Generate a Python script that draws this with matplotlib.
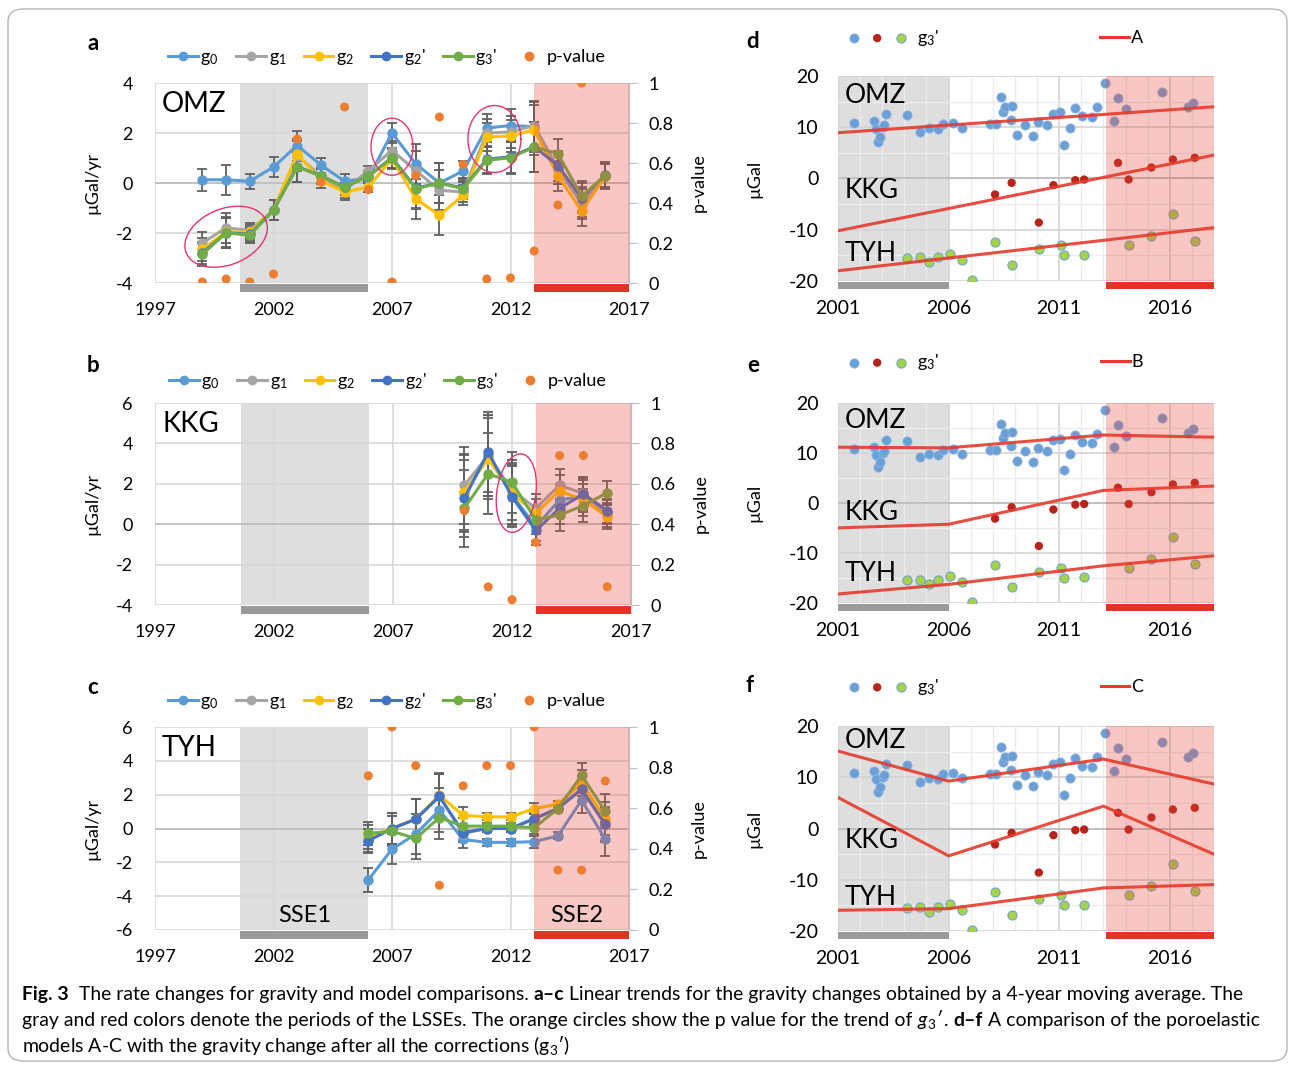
import numpy as np
import matplotlib
matplotlib.use('Agg')
import matplotlib.pyplot as plt
from matplotlib.lines import Line2D
from matplotlib.legend_handler import HandlerTuple
from matplotlib.patches import FancyBboxPatch
from matplotlib import font_manager

plt.rcParams['font.family'] = ['Lato', 'DejaVu Sans']
plt.rcParams['mathtext.fontset'] = 'custom'
plt.rcParams['mathtext.rm'] = 'Lato'
plt.rcParams['mathtext.it'] = 'Lato:italic'
plt.rcParams['mathtext.bf'] = 'Lato:bold'
plt.rcParams['axes.unicode_minus'] = False

nan = np.nan

# ---- a: OMZ rates (µGal/yr) ----
years_a = list(range(1999, 2017))
g0_a = [0.13, 0.13, 0.07, 0.64, 1.5, 0.72, 0.07, 0.2, 2.0, 0.77, 0.0, 0.48, 2.2, 2.3, 2.25, 0.57, -0.76, 0.3]
g1_a = [-2.4, -1.79, -1.9, -1.09, 1.1, 0.27, -0.29, 0.5, 1.3, 0.5, -0.29, -0.36, 2.0, 2.04, 2.3, 0.57, -0.83, 0.3]
g2_a = [-2.65, -1.96, -1.96, -1.09, 1.17, 0.1, -0.36, -0.16, 0.97, -0.63, -1.29, -0.49, 1.84, 1.88, 2.13, 0.3, -1.12, 0.27]
g2p_a = [-2.8, -1.99, -2.05, -1.09, 0.66, 0.29, -0.16, 0.27, 1.02, -0.2, 0.0, -0.2, 0.95, 1.05, 1.45, 0.7, -0.6, 0.33]
g3p_a = [-2.85, -1.99, -2.09, -1.09, 0.64, 0.29, -0.16, 0.27, 1.0, -0.23, 0.0, -0.23, 0.91, 1.01, 1.44, 1.17, -0.53, 0.3]
err_a = [0.45, 0.6, 0.3, 0.4, 0.6, 0.3, 0.3, 0.2, 0.4, 0.8, 0.8, 0.4, 0.55, 0.65, 1.0, 0.6, 0.6, 0.5]
p_a = [0.005, 0.02, 0.005, 0.045, 0.72, 0.505, 0.88, 0.467, 0.005, 0.537, 0.83, 0.593, 0.02, 0.025, 0.16, 0.39, 1.0, nan]

# ---- b: KKG ----
years_b = list(range(2010, 2017))
g0_b = [1.52, 3.4, 1.44, -0.11, 1.2, 1.39, 0.62]
g1_b = [1.93, 3.4, 1.69, 0.79, 1.93, 1.52, 0.46]
g2_b = [1.6, 3.25, 1.52, 0.54, 1.66, 1.2, 0.38]
g2p_b = [1.28, 3.57, 1.36, -0.31, 0.79, 1.49, 0.67]
g3p_b = [0.79, 2.5, 2.07, 0.21, 0.46, 0.92, 1.56]
err_b = [1.9, 2.0, 1.5, 0.7, 0.8, 0.8, 0.6]
p_b = [0.467, 0.09, 0.026, 0.31, 0.74, 0.74, 0.09]

# ---- c: TYH ----
years_c = list(range(2006, 2017))
g0_c = [-3.04, -1.22, -0.33, 1.08, -0.65, -0.82, -0.82, -0.78, -0.43, 1.67, -0.63]
g1_c = [-0.7, 0.0, 0.55, 1.9, -0.3, 0.0, 0.0, 0.55, 1.2, 2.35, 0.2]
g2_c = [-0.5, 0.0, 0.55, 1.96, 0.78, 0.69, 0.69, 1.18, 1.43, 2.69, 0.59]
g2p_c = [-0.73, 0.0, 0.55, 1.9, -0.24, 0.0, 0.0, 0.59, 1.18, 2.31, 0.25]
g3p_c = [-0.29, -0.16, -0.59, 0.65, 0.14, 0.14, 0.14, 0.04, 1.18, 3.14, 1.02]
err_c = [0.7, 0.9, 1.2, 1.3, 0.5, 0.2, 0.2, 0.35, 0.2, 0.75, 1.0]
p_c = [0.76, 1.0, 0.81, 0.22, 0.71, 0.81, 0.81, 1.0, 0.295, 0.295, 0.734]

# ---- d-f: g3' observations (µGal) ----
omz_t = [2001.71, 2002.63, 2002.71, 2002.81, 2002.89, 2003.04, 2003.07, 2003.15, 2004.14, 2004.70,
         2005.12, 2005.5, 2005.76, 2006.18, 2006.60, 2007.87, 2008.14, 2008.36, 2008.48, 2008.57,
         2008.85, 2008.81, 2009.08, 2009.46, 2009.81, 2010.02, 2010.44, 2010.74, 2011.05, 2011.2,
         2011.47, 2011.73, 2012.03, 2012.48, 2012.71, 2013.05, 2013.46, 2013.64, 2014.02, 2015.67,
         2016.82, 2017.06]
omz_v = [10.88, 11.27, 9.58, 7.17, 8.14, 10.1, 10.42, 12.57, 12.38, 9.12,
         9.77, 9.58, 10.62, 10.75, 9.9, 10.62, 10.55, 15.83, 13.03, 14.0,
         14.14, 11.4, 8.47, 10.42, 8.27, 11.0, 10.42, 12.57, 12.9, 6.51,
         9.84, 13.68, 12.25, 11.92, 13.88, 18.7, 11.27, 15.64, 13.49, 16.94,
         14.0, 14.79]
kkg_t = [2008.10, 2008.85, 2010.08, 2010.74, 2011.73, 2012.13, 2013.66, 2014.14, 2015.17, 2016.14, 2017.13]
kkg_v = [-3.13, -0.85, -8.6, -1.3, -0.33, -0.2, 3.06, -0.2, 2.15, 3.71, 4.04]
tyh_t = [2004.14, 2004.70, 2005.12, 2005.5, 2006.06, 2006.60, 2007.07, 2008.11, 2008.85, 2010.08,
         2011.08, 2011.2, 2012.13, 2014.14, 2015.17, 2016.14, 2017.12]
tyh_v = [-15.44, -15.31, -16.29, -15.31, -14.66, -15.83, -19.74, -12.44, -16.87, -13.75,
         -12.96, -14.98, -14.85, -13.03, -11.27, -6.84, -12.18]

# poroelastic models A-C (values at break years)
model_t = [2001, 2006, 2013, 2018]
modelA = [[8.93, 10.42, 12.5, 14.0], [-10.2, -5.86, 0.22, 4.56], [-18.0, -15.52, -12.06, -9.58]]
modelB = [[11.16, 11.03, 13.6, 13.16], [-4.98, -4.25, 2.52, 3.39], [-18.2, -16.28, -12.56, -10.56]]
modelC = [[15.11, 9.25, 13.55, 8.66], [6.06, -5.34, 4.36, -5.02], [-15.96, -15.64, -11.6, -10.94]]

series_labels = ['g$_0$', 'g$_1$', 'g$_2$', "g$_2$'", "g$_3$'"]
series_colors = ['#5B9BD5', '#A5A5A5', '#FFC000', '#4472C4', '#70AD47']
p_color = '#ED7D31'

W, H = 1290, 1065
fig = plt.figure(figsize=(W / 100, H / 100), dpi=100)


def px_axes(l, t, r, b):
    return fig.add_axes([l / W, 1 - b / H, (r - l) / W, (b - t) / H])


def ellipse(ax, cx, cy, w_px, h_px, ang):
    # ellipse sized in pixels, placed in data coords
    x0, x1 = ax.get_xlim()
    y0, y1 = ax.get_ylim()
    pos = ax.get_position()
    sx = pos.width * W / (x1 - x0)
    sy = pos.height * H / (y1 - y0)
    t = np.linspace(0, 2 * np.pi, 100)
    a = np.radians(ang)
    u = w_px / 2 * np.cos(t)
    v = h_px / 2 * np.sin(t)
    ax.plot(cx + (u * np.cos(a) - v * np.sin(a)) / sx,
            cy + (u * np.sin(a) + v * np.cos(a)) / sy,
            color='#E8336B', lw=1.0, zorder=6)


def rate_panel(box, years, series, err, pvals, ylo, yhi, station, leg_y):
    ax = px_axes(*box)
    ax.set_xlim(1997, 2017)
    ax.set_ylim(ylo, yhi)
    ax.set_xticks([1997, 2002, 2007, 2012, 2017])
    ax.set_yticks(range(ylo, yhi + 1, 2))
    ax.grid(True, color='#D9D9D9', lw=1.2)
    ax.set_axisbelow(True)
    ax.axhline(0, color='#BFBFBF', lw=1.3, zorder=0.6)
    ax.axvspan(2000.6, 2006.0, color='#DEDEDE', lw=0, zorder=0.2)
    ax.axvspan(2000.6, 2006.0, ymin=-0.045, ymax=-0.005, color='#9A9A9A', lw=0, clip_on=False)
    for vals, c in zip(series, series_colors):
        ax.errorbar(years, vals, yerr=err, color=c, lw=2.2, marker='o', ms=6.5,
                    ecolor='#606060', elinewidth=1.3, capsize=3.5, capthick=1.3, zorder=3)
    for s in ax.spines.values():
        s.set_visible(False)
    ax.tick_params(length=0, labelsize=13)
    ax.tick_params(axis='y', pad=16)
    ax.tick_params(axis='x', pad=14)
    ax.set_ylabel('µGal/yr', fontsize=13)
    ax.yaxis.set_label_coords(-0.115, 0.5)
    ax.text(0.015, 0.895, station, transform=ax.transAxes, fontsize=20, va='center', ha='left')

    axp = ax.twinx()
    axp.set_ylim(0, 1)
    axp.set_yticks([0, 0.2, 0.4, 0.6, 0.8, 1])
    axp.set_yticklabels(['0', '0.2', '0.4', '0.6', '0.8', '1'])
    axp.axvspan(2013.0, 2017, color='#E8483B', alpha=0.3, lw=0, zorder=1)
    axp.axvspan(2013.0, 2017, ymin=-0.045, ymax=-0.005, color='#E03424', lw=0, clip_on=False)
    axp.scatter(years, pvals, s=42, color=p_color, edgecolors='none', zorder=3)
    for k, s in axp.spines.items():
        s.set_visible(k == 'right')
    axp.spines['right'].set_color('#BFBFBF')
    axp.tick_params(axis='y', length=6, color='#BFBFBF', labelsize=13, pad=8)
    axp.set_ylabel('p-value', fontsize=13)
    axp.yaxis.set_label_coords(1.13, 0.5)

    handles = [Line2D([], [], color=c, lw=2.2, marker='o', ms=6) for c in series_colors]
    handles.append(Line2D([], [], color=p_color, lw=0, marker='o', ms=6))
    axp.legend(handles, series_labels + ['p-value'], ncol=6, frameon=False, fontsize=13,
               loc='center', bbox_to_anchor=(0.489, leg_y), handlelength=1.65,
               columnspacing=0.95, handletextpad=0.15)
    return ax, axp


ax_a, axp_a = rate_panel((155, 83, 629, 283), years_a, [g0_a, g1_a, g2_a, g2p_a, g3p_a],
                         err_a, p_a, -4, 4, 'OMZ', 1.13)
ellipse(ax_a, 2000.0, -2.15, 86, 56, 22)
ellipse(ax_a, 2007.0, 1.45, 42, 57, 0)
ellipse(ax_a, 2011.32, 1.76, 53, 67, 0)

ax_b, axp_b = rate_panel((155, 403, 631, 605), years_b, [g0_b, g1_b, g2_b, g2p_b, g3p_b],
                         err_b, p_b, -4, 6, 'KKG', 1.107)
ellipse(ax_b, 2012.18, 1.54, 39, 79, -8)

ax_c, axp_c = rate_panel((155, 727, 629, 930), years_c, [g0_c, g1_c, g2_c, g2p_c, g3p_c],
                         err_c, p_c, -6, 6, 'TYH', 1.126)
axp_c.text(2003.3, 0.07, 'SSE1', fontsize=17, ha='center', va='center')
axp_c.text(2014.8, 0.07, 'SSE2', fontsize=17, ha='center', va='center')


def model_panel(box, model, mlabel, leg_y, text_y):
    ax = px_axes(*box)
    ax.set_xlim(2001, 2018)
    ax.set_ylim(-20, 20)
    ax.set_xticks([2001, 2006, 2011, 2016])
    ax.set_xticks(range(2001, 2019), minor=True)
    ax.set_yticks([-20, -10, 0, 10, 20])
    ax.set_yticks(range(-20, 21, 5), minor=True)
    ax.grid(True, which='minor', color='#ECECEC', lw=1.0)
    ax.grid(True, which='major', color='#D4D4D4', lw=1.2)
    ax.set_axisbelow(True)
    ax.axhline(0, color='#BFBFBF', lw=1.3, zorder=0.6)
    ax.axvspan(2001, 2006.0, color='#DEDEDE', lw=0, zorder=0.2)
    ax.axvspan(2001, 2006.0, ymin=-0.04, ymax=-0.003, color='#9A9A9A', lw=0, clip_on=False)
    ax.axvspan(2013.1, 2018, ymin=-0.04, ymax=-0.003, color='#E03424', lw=0, clip_on=False)
    h1 = ax.scatter(omz_t, omz_v, s=44, color='#6C9FD6', edgecolors='#8DB4E2', lw=0.6, zorder=2)
    h2 = ax.scatter(kkg_t, kkg_v, s=36, color='#B8231B', edgecolors='none', zorder=2)
    h3 = ax.scatter(tyh_t, tyh_v, s=44, color='#A6D24A', edgecolors='#6C9FD6', lw=0.7, zorder=2)
    ax.axvspan(2013.1, 2018, color='#E8483B', alpha=0.3, lw=0, zorder=3)
    for vals in model:
        ax.plot(model_t, vals, color='#E8392B', lw=2.2, alpha=0.9, zorder=4)
    for s in ax.spines.values():
        s.set_visible(False)
    ax.tick_params(which='both', length=0, labelsize=14)
    ax.tick_params(axis='y', pad=14)
    ax.tick_params(axis='x', pad=14)
    ax.set_ylabel('µGal', fontsize=13)
    ax.yaxis.set_label_coords(-0.2, 0.5)
    for name, ty in zip(['OMZ', 'KKG', 'TYH'], text_y):
        ax.text(0.017, ty, name, transform=ax.transAxes, fontsize=19, va='center', ha='left', zorder=5)

    leg1 = ax.legend([(h1, h2, h3)], ["g$_3$'"], handler_map={tuple: HandlerTuple(ndivide=None, pad=0.9)},
                     frameon=False, fontsize=13, loc='center', bbox_to_anchor=(0.15, leg_y),
                     handlelength=3.0, handletextpad=0.7)
    ax.add_artist(leg1)
    ax.legend([Line2D([], [], color='#E8392B', lw=2.2)], [mlabel], frameon=False, fontsize=13,
              loc='center', bbox_to_anchor=(0.755, leg_y), handlelength=1.6, handletextpad=0.1)
    return ax


model_panel((838, 76, 1214, 281), modelA, 'A', 1.186, [0.907, 0.443, 0.135])
model_panel((838, 403, 1214, 603), modelB, 'B', 1.203, [0.914, 0.455, 0.146])
model_panel((838, 726, 1214, 931), modelC, 'C', 1.19, [0.93, 0.443, 0.165])

# panel letters
for letter, x, y in [('a', 93, 43), ('b', 93, 366), ('c', 93, 687),
                     ('d', 753, 42), ('e', 753, 366), ('f', 750, 686)]:
    fig.text(x / W, 1 - y / H, letter, fontsize=16, fontweight='bold', ha='center', va='center')

# outer frame
fig.patches.append(FancyBboxPatch((8 / W, 4 / H), 1279 / W, 1052 / H,
                                  boxstyle='round,pad=0,rounding_size=0.012',
                                  transform=fig.transFigure, fc='none', ec='#B5B5B5', lw=1.0))

# caption
names = {f.name for f in font_manager.fontManager.ttflist}
cap_font = 'Liberation Sans Narrow' if 'Liberation Sans Narrow' in names else 'Lato'
renderer = fig.canvas.get_renderer()


def text_w(s, size, **kw):
    t = fig.text(0, 0, s, fontsize=size, family=cap_font, **kw)
    w = t.get_window_extent(renderer).width
    t.remove()
    return w


def caption_line(parts, y, size, draw=True):
    x = 22
    sp = text_w('a a', size) - text_w('aa', size)
    for s, kw in parts:
        core = s.strip()
        x += sp * (len(s) - len(s.lstrip()))
        if draw:
            fig.text(x / W, 1 - y / H, core, fontsize=size, family=cap_font, va='baseline', **kw)
        x += text_w(core, size, **kw)
        x += sp * (len(s) - len(s.rstrip()))
    return x


B = {'fontweight': 'bold'}
N = {}
line1 = [('Fig. 3', B), ('  The rate changes for gravity and model comparisons. ', N), ('a–c', B),
         (' Linear trends for the gravity changes obtained by a 4-year moving average. The', N)]
line2 = [('gray and red colors denote the periods of the LSSEs. The orange circles show the p value for the trend of ', N),
         ("g$_3$′", {'fontstyle': 'italic'}), ('. ', N), ('d–f', B), (' A comparison of the poroelastic', N)]
line3 = [('models A-C with the gravity change after all the corrections (g$_3$′)', N)]

s0 = 10.0
wid = caption_line(line1, 1000, s0, draw=False) - 22
cap_size = s0 * 1223 / wid
caption_line(line1, 1000, cap_size)
caption_line(line2, 1026, cap_size)
caption_line(line3, 1052, cap_size)

fig.savefig('out.png', dpi=100)
